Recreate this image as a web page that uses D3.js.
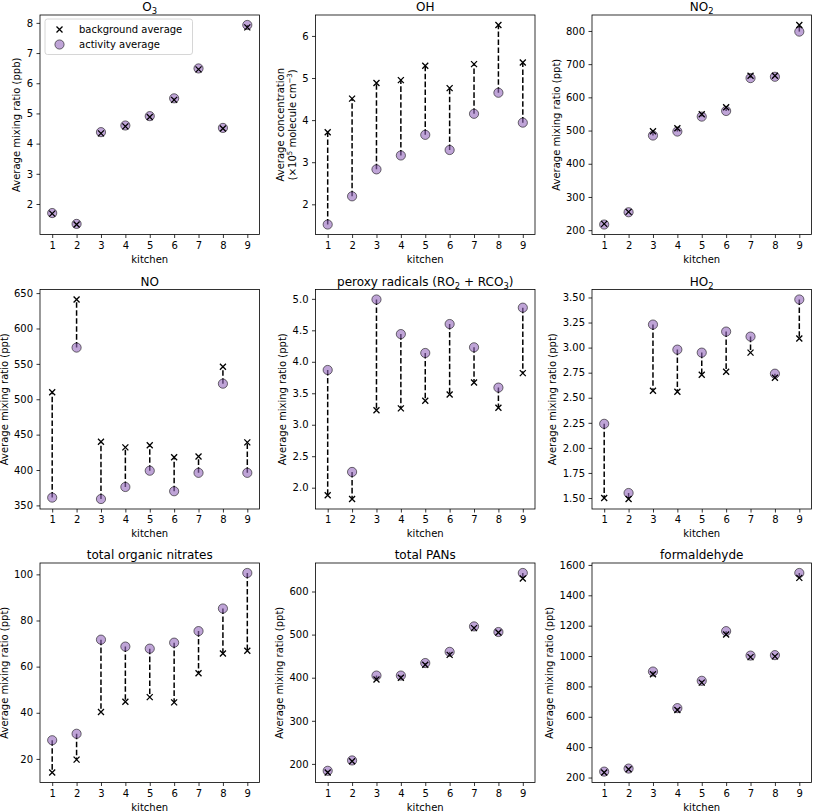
<!DOCTYPE html>
<html>
<head>
<meta charset="utf-8">
<script src="https://cdnjs.cloudflare.com/ajax/libs/d3/7.8.5/d3.min.js"></script>
<style>
  body { margin: 0; background: #fff; }
  svg { display: block; font-family: "DejaVu Sans", sans-serif; }
</style>
</head>
<body>
<svg id="chart" width="813" height="811"></svg>
<script>
// ---------------- data ----------------
const kitchens = [1, 2, 3, 4, 5, 6, 7, 8, 9];

const o3Act = [1.70, 1.34, 4.38, 4.60, 4.91, 5.50, 6.49, 4.52, 7.93];
const o3Bg  = [1.68, 1.32, 4.34, 4.57, 4.88, 5.45, 6.46, 4.50, 7.85];
const o3Ticks = [2, 3, 4, 5, 6, 7, 8];

const ohAct = [1.52, 2.19, 2.83, 3.16, 3.65, 3.29, 4.15, 4.65, 3.94];
const ohBg  = [3.71, 4.51, 4.88, 4.95, 5.29, 4.76, 5.33, 6.26, 5.37];
const ohTicks = [2, 3, 4, 5, 6];

const no2Act = [217, 254, 485, 497, 542, 559, 658, 662, 798];
const no2Bg  = [219, 255, 498, 507, 549, 570, 665, 665, 818];
const no2Ticks = [200, 300, 400, 500, 600, 700, 800];

const noAct = [361, 573, 359, 376, 399, 370, 396, 522, 396];
const noBg  = [510, 641, 440, 432, 435, 418, 419, 546, 439];
const noTicks = [350, 400, 450, 500, 550, 600, 650];

const ro2Act = [3.87, 2.25, 4.99, 4.44, 4.14, 4.60, 4.23, 3.59, 4.86];
const ro2Bg  = [1.88, 1.82, 3.23, 3.26, 3.38, 3.48, 3.67, 3.27, 3.82];
const ro2Ticks = [2.0, 2.5, 3.0, 3.5, 4.0, 4.5, 5.0];

const ho2Act = [2.24, 1.55, 3.23, 2.98, 2.95, 3.16, 3.11, 2.74, 3.48];
const ho2Bg  = [1.50, 1.49, 2.57, 2.56, 2.73, 2.76, 2.95, 2.70, 3.09];
const ho2Ticks = [1.50, 1.75, 2.00, 2.25, 2.50, 2.75, 3.00, 3.25, 3.50];

const tonAct = [28.1, 30.9, 71.7, 68.7, 67.8, 70.4, 75.4, 85.2, 100.6];
const tonBg  = [14.1, 19.7, 40.3, 44.8, 46.8, 44.5, 57.1, 65.7, 66.9];
const tonTicks = [20, 40, 60, 80, 100];

const panAct = [184, 208, 405, 405, 434, 460, 519, 506, 643];
const panBg  = [180, 206, 396, 400, 430, 453, 515, 505, 630];
const panTicks = [200, 300, 400, 500, 600];

const hchoAct = [239, 259, 898, 657, 837, 1164, 1003, 1006, 1547];
const hchoBg  = [233, 255, 880, 645, 825, 1142, 993, 998, 1515];
const hchoTicks = [200, 400, 600, 800, 1000, 1200, 1400, 1600];

const titles = ["O_{3}", "OH", "NO_{2}", "NO", "peroxy radicals (RO_{2} + RCO_{3})", "HO_{2}",
                "total organic nitrates", "total PANs", "formaldehyde"];
const ppb = ["Average mixing ratio (ppb)"];
const ppt = ["Average mixing ratio (ppt)"];
const ohLabel = ["Average concentration", "(×10^{5} molecule cm^{−3})"];
const xLabel = "kitchen";
const legendLabels = ["background average", "activity average"];

const panels = [
  { act: o3Act,  bg: o3Bg,  ticks: o3Ticks,  fmt: d3.format("d"),   ylab: ppb, legend: true },
  { act: ohAct,  bg: ohBg,  ticks: ohTicks,  fmt: d3.format("d"),   ylab: ohLabel },
  { act: no2Act, bg: no2Bg, ticks: no2Ticks, fmt: d3.format("d"),   ylab: ppt },
  { act: noAct,  bg: noBg,  ticks: noTicks,  fmt: d3.format("d"),   ylab: ppt },
  { act: ro2Act, bg: ro2Bg, ticks: ro2Ticks, fmt: d3.format(".1f"), ylab: ppt },
  { act: ho2Act, bg: ho2Bg, ticks: ho2Ticks, fmt: d3.format(".2f"), ylab: ppt },
  { act: tonAct, bg: tonBg, ticks: tonTicks, fmt: d3.format("d"),   ylab: ppt },
  { act: panAct, bg: panBg, ticks: panTicks, fmt: d3.format("d"),   ylab: ppt },
  { act: hchoAct,bg: hchoBg,ticks: hchoTicks,fmt: d3.format("d"),   ylab: ppt }
];

// ---------------- layout ----------------
const colLeft = [40, 315.5, 592];
const rowTop = [15, 289.5, 563];
const W = 219.5, H = 219.5;
const FS = 10, TFS = 12;
const purple = "#9467bd";

const svg = d3.select("#chart");

function richText(sel, str, fs) {
  const parts = str.split(/(_\{[^}]*\}|\^\{[^}]*\})/).filter(s => s.length);
  let shift = 0;
  parts.forEach(p => {
    let target = 0, size = fs, txt = p;
    if (p.startsWith("_{")) { target = 0.28 * fs; size = 0.7 * fs; txt = p.slice(2, -1); }
    else if (p.startsWith("^{")) { target = -0.4 * fs; size = 0.7 * fs; txt = p.slice(2, -1); }
    sel.append("tspan").attr("dy", target - shift).attr("font-size", size).text(txt);
    shift = target;
  });
}

function xMarker(g, cx, cy, r) {
  g.append("path")
    .attr("d", `M${cx - r},${cy - r}L${cx + r},${cy + r}M${cx - r},${cy + r}L${cx + r},${cy - r}`)
    .attr("stroke", "#000").attr("stroke-width", 1.3).attr("fill", "none");
}

panels.forEach((p, i) => {
  const left = colLeft[i % 3], top = rowTop[Math.floor(i / 3)];
  const g = svg.append("g").attr("transform", `translate(${left},${top})`);

  const x = d3.scaleLinear().domain([0.5, 9.5]).range([0, W]);
  const all = p.act.concat(p.bg);
  const lo = d3.min(all), hi = d3.max(all), m = 0.05 * (hi - lo);
  const y = d3.scaleLinear().domain([lo - m, hi + m]).range([H, 0]);

  // dashed connectors
  g.selectAll(".conn").data(kitchens).join("line")
    .attr("x1", (k) => x(k)).attr("x2", (k) => x(k))
    .attr("y1", (k, j) => y(p.act[j])).attr("y2", (k, j) => y(p.bg[j]))
    .attr("stroke", "#000").attr("stroke-width", 1.5).attr("stroke-dasharray", "5.55,2.4");

  // activity circles
  g.selectAll(".act").data(kitchens).join("circle")
    .attr("cx", (k) => x(k)).attr("cy", (k, j) => y(p.act[j])).attr("r", 4.6)
    .attr("fill", purple).attr("fill-opacity", 0.6)
    .attr("stroke", "#000").attr("stroke-opacity", 0.55).attr("stroke-width", 1);

  // background x markers
  kitchens.forEach((k, j) => xMarker(g, x(k), y(p.bg[j]), 3));

  // axes
  const xa = g.append("g").attr("transform", `translate(0,${H})`)
    .call(d3.axisBottom(x).tickValues(kitchens).tickSize(3.5).tickPadding(3.5).tickFormat(d3.format("d")));
  const ya = g.append("g")
    .call(d3.axisLeft(y).tickValues(p.ticks).tickSize(3.5).tickPadding(3.5).tickFormat(p.fmt));
  [xa, ya].forEach(a => {
    a.select(".domain").remove();
    a.selectAll("line").attr("stroke", "#000").attr("stroke-width", 0.8);
    a.selectAll("text").attr("font-size", FS).attr("fill", "#000").attr("font-family", "DejaVu Sans");
  });

  // frame
  g.append("rect").attr("x", 0).attr("y", 0).attr("width", W).attr("height", H)
    .attr("fill", "none").attr("stroke", "#000").attr("stroke-width", 0.8);

  // title
  const t = g.append("text").attr("x", W / 2).attr("y", -4).attr("text-anchor", "middle")
    .attr("font-size", TFS).attr("fill", "#000");
  richText(t, titles[i], TFS);

  // x label
  g.append("text").attr("x", W / 2).attr("y", H + 28).attr("text-anchor", "middle")
    .attr("font-size", FS).attr("fill", "#000").text(xLabel);

  // y label
  let maxW = 0;
  ya.selectAll("text").each(function () { maxW = Math.max(maxW, this.getComputedTextLength()); });
  const baseX = -3.5 - 3.5 - maxW - 4 - 2.4;
  const nL = p.ylab.length;
  p.ylab.forEach((lab, li) => {
    const bx = baseX - (nL - 1 - li) * 12;
    const yt = g.append("text").attr("transform", `translate(${bx},${H / 2}) rotate(-90)`)
      .attr("text-anchor", "middle").attr("font-size", FS).attr("fill", "#000");
    richText(yt, lab, FS);
  });

  // legend
  if (p.legend) {
    const lg = g.append("g").attr("transform", "translate(5,4)");
    lg.append("rect").attr("width", 147.5).attr("height", 35.5).attr("rx", 2.5)
      .attr("fill", "#fff").attr("fill-opacity", 0.8).attr("stroke", "#ccc").attr("stroke-width", 0.8);
    xMarker(lg, 14.5, 10.5, 3);
    lg.append("circle").attr("cx", 14.5).attr("cy", 25.5).attr("r", 4.6)
      .attr("fill", purple).attr("fill-opacity", 0.6)
      .attr("stroke", "#000").attr("stroke-opacity", 0.55).attr("stroke-width", 1);
    legendLabels.forEach((lab, li) => {
      lg.append("text").attr("x", 34).attr("y", 10.5 + li * 15 + 3.6)
        .attr("font-size", FS).attr("fill", "#000").text(lab);
    });
  }
});
</script>
</body>
</html>
